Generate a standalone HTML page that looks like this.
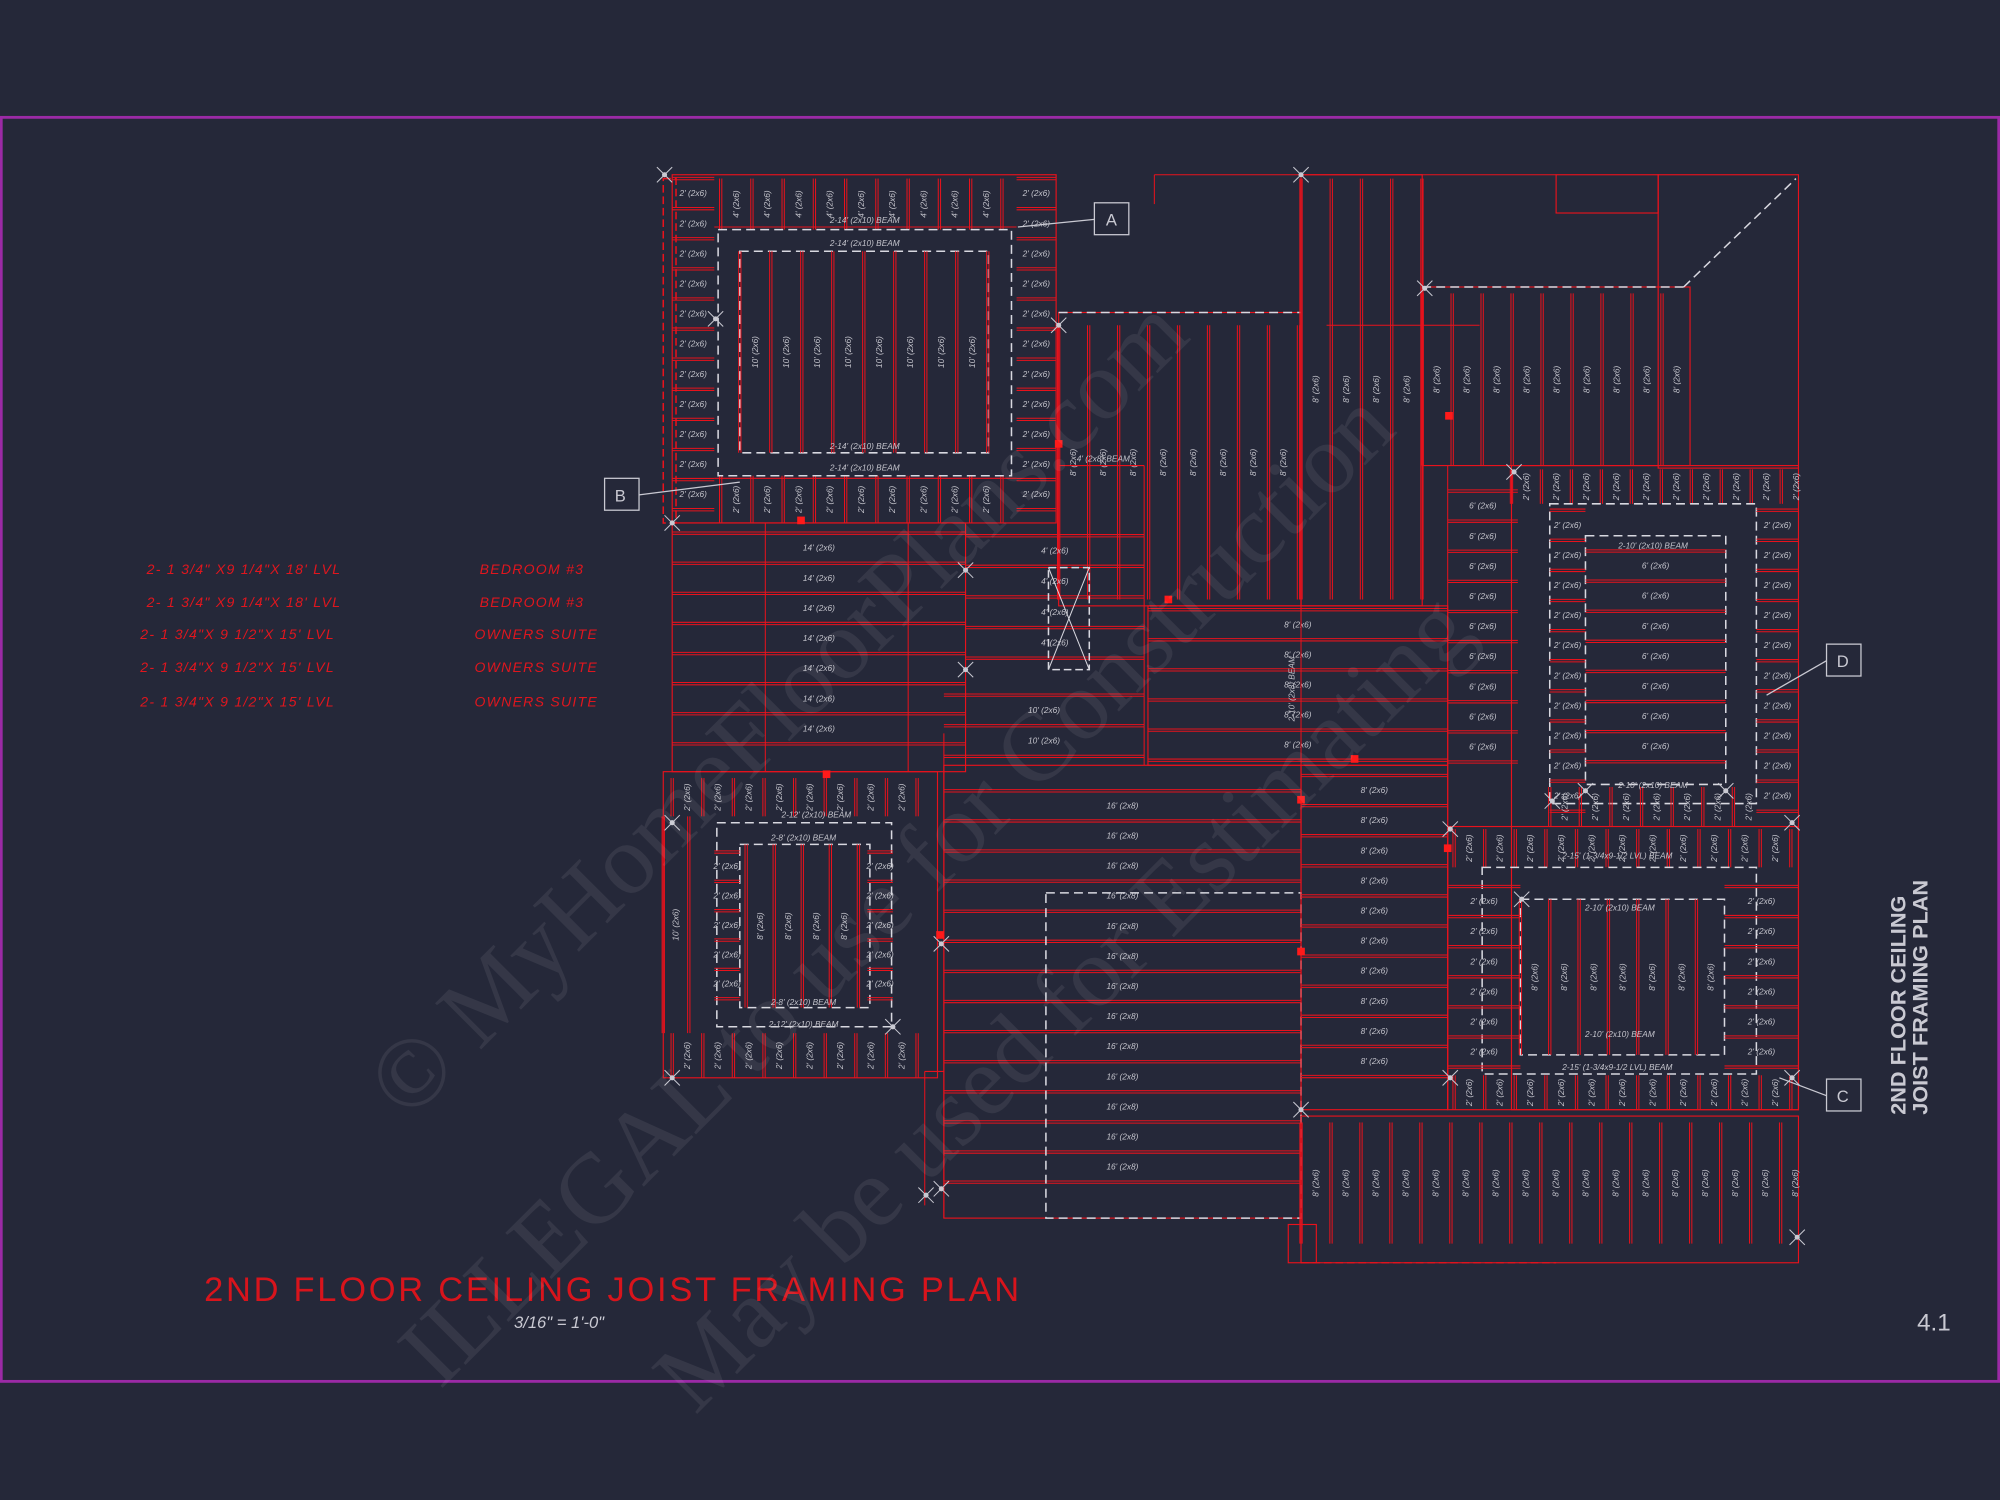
<!DOCTYPE html>
<html><head><meta charset="utf-8">
<style>
html,body{margin:0;padding:0;background:#252839;}
svg{display:block}
.t{font-family:"Liberation Sans",sans-serif;fill:#c9c9d2;}
</style></head>
<body>
<svg id="s" width="2000" height="1500" viewBox="0 0 1568 1176" xmlns="http://www.w3.org/2000/svg">
<rect x="0" y="0" width="1568" height="1176" fill="#252839"/>
<rect x="1" y="92" width="1566" height="991" fill="none" stroke="#9b2aa6" stroke-width="2.2"/>
<g id="plan"></g>
<g font-family="Liberation Sans, sans-serif" fill="#e0161e" font-size="11" font-style="italic" letter-spacing="1">
<text x="115" y="450">2- 1 3/4" X9 1/4"X 18'  LVL</text>
<text x="115" y="476">2- 1 3/4" X9 1/4"X 18'  LVL</text>
<text x="110" y="501">2- 1 3/4"X 9 1/2"X 15' LVL</text>
<text x="110" y="527">2- 1 3/4"X 9 1/2"X 15' LVL</text>
<text x="110" y="554">2- 1 3/4"X 9 1/2"X 15' LVL</text>
<text x="376" y="450">BEDROOM #3</text>
<text x="376" y="476">BEDROOM #3</text>
<text x="372" y="501">OWNERS SUITE</text>
<text x="372" y="527">OWNERS SUITE</text>
<text x="372" y="554">OWNERS SUITE</text>
</g>
<text x="160" y="1020" font-family="Liberation Sans, sans-serif" font-size="27" fill="#d8141c" letter-spacing="3" textLength="642">2ND FLOOR CEILING JOIST FRAMING PLAN</text>
<text x="403" y="1041" class="t" font-size="13" font-style="italic">3/16" = 1'-0"</text>
<text x="1503" y="1043" class="t" font-size="19">4.1</text>
<g transform="translate(1494,874) rotate(-90)" class="t" font-size="17" font-weight="bold">
<text x="0" y="0">2ND FLOOR CEILING</text>
<text x="0" y="17">JOIST FRAMING PLAN</text>
</g>
<g fill="none" stroke="#c9c9d2" stroke-width="1">
<rect x="858" y="159" width="27" height="25"/><line x1="858" y1="172" x2="798" y2="178"/>
<rect x="474" y="375" width="27" height="25"/><line x1="501" y1="388" x2="580" y2="378"/>
<rect x="1432" y="505" width="27" height="25"/><line x1="1432" y1="518" x2="1385" y2="545"/>
<rect x="1432" y="846" width="27" height="25"/><line x1="1432" y1="859" x2="1395" y2="845"/>
</g>
<g class="t" font-size="13"><text x="867" y="177">A</text><text x="482" y="393">B</text><text x="1440" y="523">D</text><text x="1440" y="864">C</text></g>
<g opacity="0.07" fill="#ffffff" font-family="Liberation Serif, serif" font-size="78">
<text transform="translate(320,880) rotate(-45)">© MyHomeFloorPlans.com</text>
<text transform="translate(345,1090) rotate(-45)">ILLEGAL to use for Construction</text>
<text transform="translate(545,1110) rotate(-45)">May be used for Estimating</text>
</g>
</svg>
<script>
var g=document.getElementById('plan'),NS='http://www.w3.org/2000/svg',R='#e8121c';
function el(n,a,txt){var e=document.createElementNS(NS,n);for(var k in a)e.setAttribute(k,a[k]);if(txt)e.textContent=txt;g.appendChild(e);return e;}
function L(x1,y1,x2,y2,c,w,d){var a={x1:x1,y1:y1,x2:x2,y2:y2,stroke:c||R,'stroke-width':w||0.8};if(d)a['stroke-dasharray']=d;el('line',a);}
function DL(x1,y1,x2,y2){if(x1==x2){L(x1-0.9,y1,x2-0.9,y2);L(x1+0.9,y1,x2+0.9,y2);}else{L(x1,y1-0.9,x2,y2-0.9);L(x1,y1+0.9,x2,y2+0.9);}}
function T(x,y,s,rot,sz){var a={x:x,y:y,'font-size':sz||6.5,'font-style':'italic',fill:'#c4c4cc','font-family':'Liberation Sans, sans-serif','text-anchor':'middle'};if(rot)a.transform='rotate(-90 '+x+' '+y+')';el('text',a,s);}
function V(x0,x1,st,y0,y1,lab){for(var x=x0;x<=x1+0.1;x+=st){DL(x,y0,x,y1);if(lab&&x+st<=x1+st*0.5)T(x+st/2+2,(y0+y1)/2,lab,1);}}
function H(y0,y1,st,x0,x1,lab){for(var y=y0;y<=y1+0.1;y+=st){DL(x0,y,x1,y);if(lab&&y+st<=y1+0.1)T((x0+x1)/2,y+st/2+2,lab);}}
function RB(x,y,w,h,c,d){el('rect',{x:x,y:y,width:w,height:h,fill:'none',stroke:c||R,'stroke-width':d?1.2:0.9,'stroke-dasharray':d||''});}
function X(x,y){L(x-6,y-6,x+6,y+6,'#c9c9d2',0.8);L(x-6,y+6,x+6,y-6,'#c9c9d2',0.8);el('circle',{cx:x,cy:y,r:2,fill:'#c9c9d2'});}
function SQ(x,y){el('rect',{x:x-3,y:y-3,width:6,height:6,fill:'#ff1a1a'});}
var W='#d8d8e0';
/* top-left block */
H(140,400,23.6,527,560,'2\' (2x6)');H(140,400,23.6,797,828,'2\' (2x6)');
V(565,790,24.5,140,180,'4\' (2x6)');V(565,790,24.5,373,410,'2\' (2x6)');
RB(527,137,301,273);RB(563,180,230,193,W,'7 4');RB(580,197,195,158,W,'7 4');
V(580,775,24.3,197,355,'10\' (2x6)');L(560,178,797,178);L(560,375,797,375);
T(678,175,'2-14\' (2x10) BEAM');T(678,193,'2-14\' (2x10) BEAM');T(678,352,'2-14\' (2x10) BEAM');T(678,369,'2-14\' (2x10) BEAM');
RB(520,140,10,270,R,'6 3');
/* middle-left */
H(418,605,23.6,527,757,'14\' (2x6)');RB(527,410,230,195);L(600,410,600,605);L(712,410,712,605);
/* lower-left */
RB(520,605,215,240);V(527,730,24,610,640,'2\' (2x6)');V(527,730,24,810,845,'2\' (2x6)');
RB(562,645,137,160,W,'7 4');RB(580,662,102,128,W,'7 4');V(585,680,22,662,790,'8\' (2x6)');
H(668,790,23,560,580,'2\' (2x6)');H(668,790,23,680,700,'2\' (2x6)');V(520,540,20,640,810,'10\' (2x6)');
T(630,659,'2-8\' (2x10) BEAM');T(630,788,'2-8\' (2x10) BEAM');T(630,805,'2-12\' (2x10) BEAM');T(640,641,'2-12\' (2x10) BEAM');
/* center */
H(620,945,23.6,740,1020,'16\' (2x8)');RB(740,600,280,355);RB(820,700,200,255,W,'7 4');
L(740,575,740,955);L(725,840,740,840);L(725,840,725,945);
/* top center */
RB(830,245,190,230);V(830,1020,23.5,255,470,'8\' (2x6)');L(830,245,1020,245,W,1.2,'7 4');
H(420,520,24,757,897,'4\' (2x6)');RB(822,445,32,80,W,'6 3');L(822,445,854,525,W);L(854,445,822,525,W);
H(545,600,24,740,897,'10\' (2x6)');L(897,365,897,600);L(830,365,897,365);T(865,362,'4\' (2x8) BEAM');
/* top middle */
RB(1020,137,95,338);V(1020,1115,23.7,140,470,'8\' (2x6)');L(905,137,1220,137);L(905,137,905,160);L(1040,255,1160,255);
/* top right */
RB(1115,225,210,140);V(1115,1325,23.5,230,365,'8\' (2x6)');L(1115,225,1320,225,W,1.2,'7 4');L(1320,225,1408,140,W,1.2,'7 4');
RB(1300,137,110,230);RB(1220,137,80,30);
/* middle */
H(478,600,23.6,900,1135,'8\' (2x6)');RB(900,475,235,125);L(1020,475,1020,600);T(1015,540,'2-10\' (2x8) BEAM',1);L(1135,365,1135,870);
H(385,620,23.6,1135,1190,'6\' (2x6)');
/* right block */
RB(1185,365,225,505);V(1185,1410,23.5,368,395,'2\' (2x6)');RB(1215,395,162,235,W,'7 4');RB(1243,420,110,195,W,'7 4');
H(432,610,23.6,1243,1353,'6\' (2x6)');H(400,640,23.6,1377,1410,'2\' (2x6)');H(400,640,23.6,1215,1243,'2\' (2x6)');V(1215,1377,24,617,648,'2\' (2x6)');
T(1296,430,'2-10\' (2x10) BEAM');T(1296,618,'2-10\' (2x10) BEAM');
RB(1135,648,275,222);V(1140,1405,24,650,680,'2\' (2x6)');V(1140,1405,24,843,870,'2\' (2x6)');
RB(1162,680,215,162,W,'7 4');RB(1192,705,160,122,W,'7 4');V(1192,1352,23,705,827,'8\' (2x6)');
H(695,840,23.6,1135,1192,'2\' (2x6)');H(695,840,23.6,1352,1410,'2\' (2x6)');
T(1268,673,'2-15\' (1-3/4x9-1/2 LVL) BEAM');T(1270,714,'2-10\' (2x10) BEAM');T(1270,813,'2-10\' (2x10) BEAM');T(1268,839,'2-15\' (1-3/4x9-1/2 LVL) BEAM');
/* middle column */
H(608,865,23.6,1020,1135,'8\' (2x6)');RB(1020,600,115,270);
/* bottom right */
RB(1020,875,390,115);V(1020,1410,23.5,880,975,'8\' (2x6)');RB(1010,960,22,30);L(1020,990,1220,990,R,0.9,'6 3');
/* markers */
[[521,137],[1020,137],[1117,226],[561,250],[527,410],[757,447],[757,525],[527,645],[527,845],[700,805],[738,740],[726,937],[738,932],[830,255],[1020,870],[1137,650],[1137,845],[1193,705],[1217,628],[1243,620],[1353,620],[1405,645],[1405,845],[1409,970],[1187,370]].forEach(function(p){X(p[0],p[1]);});
[[830,348],[628,408],[648,607],[737,733],[916,470],[1062,595],[1020,627],[1020,746],[1135,665],[1136,326]].forEach(function(p){SQ(p[0],p[1]);});
</script>
</body></html>
